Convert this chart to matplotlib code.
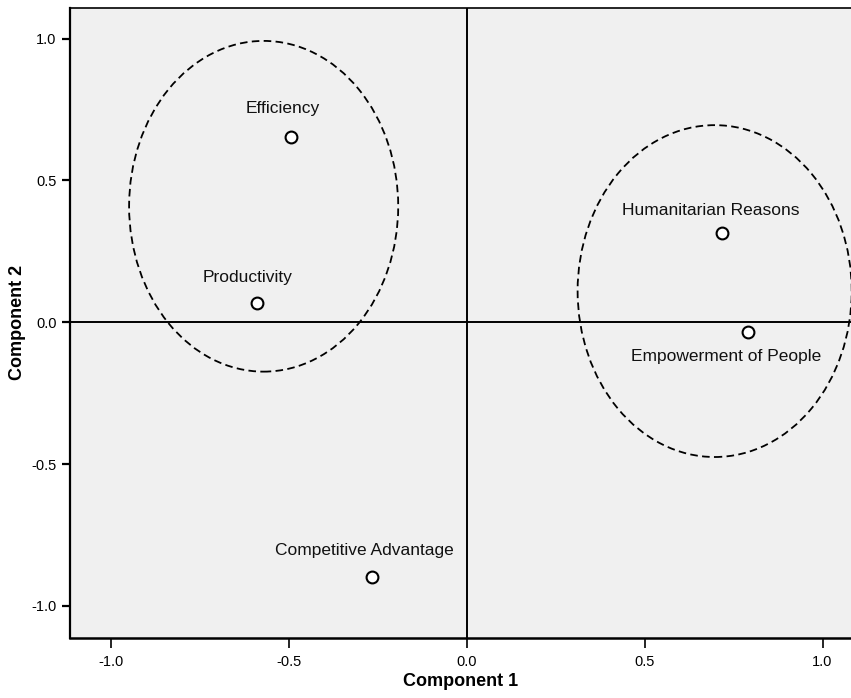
import numpy as np
import matplotlib.pyplot as plt
from matplotlib.patches import Ellipse

# component loadings (rotated component plot)
items = ['Efficiency', 'Productivity', 'Competitive Advantage',
         'Humanitarian Reasons', 'Empowerment of People']
comp1 = [-0.492, -0.590, -0.265, 0.718, 0.791]
comp2 = [0.654, 0.069, -0.897, 0.314, -0.033]

# label offsets (points) relative to each marker
label_dx = [-6.5, -6.5, -6, -8, -16]
label_dy = [20, 18, 18.7, 16.6, -18]

# grouping ellipses: centre x, centre y, width, height
ell_x = [-0.570, 0.697]
ell_y = [0.409, 0.110]
ell_w = [0.756, 0.770]
ell_h = [1.166, 1.170]

ticks = [-1.0, -0.5, 0.0, 0.5, 1.0]

plt.rcParams['font.family'] = ['Liberation Sans', 'DejaVu Sans']

fig = plt.figure(figsize=(8.51, 6.98), dpi=100)
ax = fig.add_axes([70/851, (698-637.7)/698, 781/851, (637.7-8)/698])
ax.set_facecolor('#f0f0f0')

ax.axhline(0, color='black', lw=1.4, zorder=1)
ax.axvline(0, color='black', lw=1.4, zorder=1)

for cx, cy, w, h in zip(ell_x, ell_y, ell_w, ell_h):
    ax.add_patch(Ellipse((cx, cy), w, h, fill=False, edgecolor='black',
                         lw=1.3, linestyle=(0, (4.2, 2.4)), zorder=2))

ax.plot(comp1, comp2, 'o', ms=8.5, mfc='white', mec='black', mew=1.5,
        linestyle='none', zorder=3)
for name, x, y, dx, dy in zip(items, comp1, comp2, label_dx, label_dy):
    ax.annotate(name, (x, y), xytext=(dx, dy), textcoords='offset points',
                ha='center', va='center', fontsize=12.5, color='#111111')

ax.set_xlim(-1.114, 1.08)
ax.set_ylim(-1.112, 1.108)
ax.set_xticks(ticks)
ax.set_yticks(ticks)
ax.set_xticklabels(['%.1f' % t for t in ticks])
ax.set_yticklabels(['%.1f' % t for t in ticks])
ax.tick_params(axis='x', direction='out', length=7.2, width=1.2, pad=5,
               labelsize=10.5, colors='black')
ax.tick_params(axis='y', direction='out', length=5.8, width=1.6, pad=4,
               labelsize=10.5, colors='black')

ax.spines['right'].set_visible(False)
ax.spines['left'].set_linewidth(1.6)
ax.spines['bottom'].set_linewidth(1.8)
ax.spines['top'].set_linewidth(1.2)

ax.set_xlabel('Component 1', fontsize=13, fontweight='bold')
ax.set_ylabel('Component 2', fontsize=13, fontweight='bold')
ax.xaxis.label.set_va('center')
ax.yaxis.label.set_va('center')
ax.xaxis.set_label_coords(0.5, -43.5 / 629.7)
ax.yaxis.set_label_coords(-52 / 781, 0.5)

plt.savefig('out.png', dpi=100)
